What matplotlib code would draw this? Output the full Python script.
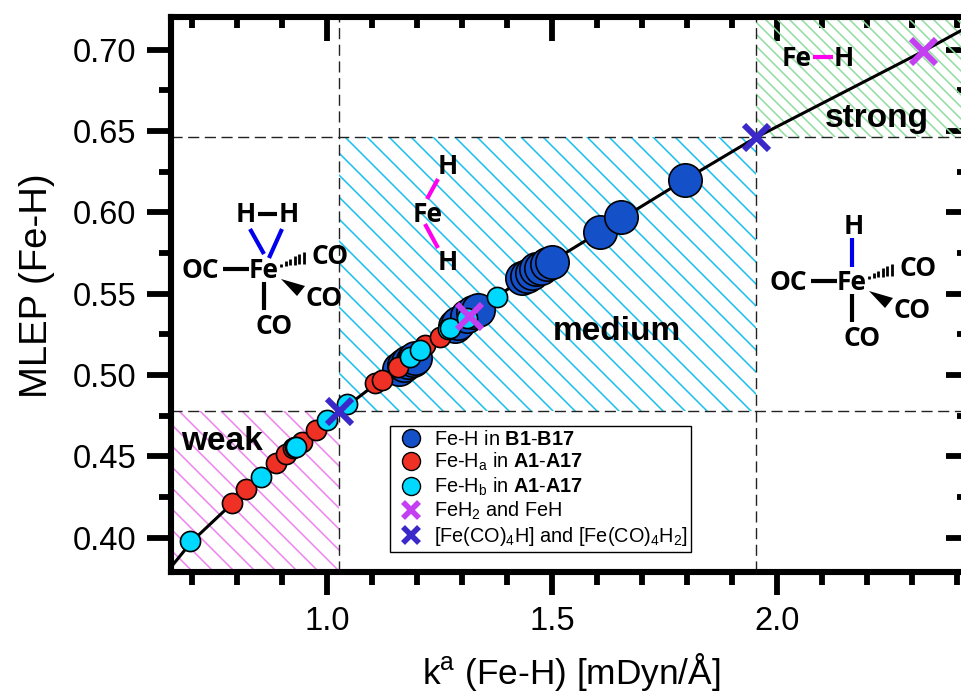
import matplotlib
matplotlib.use('Agg')
import matplotlib.pyplot as plt
from matplotlib.collections import LineCollection
from matplotlib.lines import Line2D
from matplotlib.patches import Polygon, Rectangle
from matplotlib.ticker import MultipleLocator
from matplotlib.transforms import Affine2D

plt.rcParams['font.family'] = ['Liberation Sans', 'DejaVu Sans']
plt.rcParams['mathtext.fontset'] = 'custom'
plt.rcParams['mathtext.rm'] = 'Liberation Sans'
plt.rcParams['mathtext.bf'] = 'Liberation Sans:bold'
plt.rcParams['mathtext.it'] = 'Liberation Sans:italic'

# values
line_x = [0.653, 0.70, 0.85, 1.03, 1.30, 1.50, 1.795, 1.953, 2.325, 2.424]
line_y = [0.382, 0.398, 0.437, 0.478, 0.535, 0.570, 0.620, 0.646, 0.699, 0.714]

b_x = [1.16, 1.17, 1.18, 1.19, 1.196, 1.285, 1.291, 1.31, 1.325, 1.336, 1.433, 1.445, 1.455, 1.465, 1.475, 1.488, 1.50, 1.606, 1.653, 1.795]
b_y = [0.504, 0.506, 0.508, 0.509, 0.5105, 0.530, 0.532, 0.536, 0.539, 0.540, 0.5596, 0.561, 0.563, 0.565, 0.566, 0.568, 0.5695, 0.588, 0.597, 0.620]

ha_x = [0.788, 0.82, 0.887, 0.909, 0.925, 0.944, 0.976, 1.107, 1.122, 1.158, 1.218, 1.251]
ha_y = [0.4215, 0.430, 0.446, 0.4516, 0.455, 0.459, 0.466, 0.495, 0.497, 0.505, 0.5185, 0.5235]

hb_x = [0.696, 0.853, 0.928, 0.931, 1.00, 1.044, 1.184, 1.207, 1.268, 1.273, 1.311, 1.378]
hb_y = [0.398, 0.4372, 0.4555, 0.456, 0.4725, 0.482, 0.511, 0.5155, 0.528, 0.529, 0.535, 0.548]

feh_x = [1.316, 2.325]
feh_y = [0.536, 0.699]
feco_x = [1.026, 1.953]
feco_y = [0.478, 0.646]

weak_x = 1.026
strong_x = 1.953
weak_y = 0.478
strong_y = 0.646

x_ticks = [1.0, 1.5, 2.0]
y_ticks = [0.40, 0.45, 0.50, 0.55, 0.60, 0.65, 0.70]

BLUE = '#1450C8'
RED = '#EE3124'
CYAN = '#00D9FF'
PURPLE = '#C43FF2'
NAVY = '#3A28C8'

W, H = 962, 694
fig = plt.figure(figsize=(W / 100, H / 100), dpi=100)
ax = fig.add_axes([171 / W, 1 - 572 / H, 797 / W, 555.5 / H])
ax.set_xlim(0.653, 2.424)
ax.set_ylim(0.379, 0.7203)

# region labels, hatching and sketches are placed in image pixels
to_px = Affine2D().scale(1, -1).translate(0, H)

# strength regions, hatched by hand because the built-in density is too coarse to tune
x0, x1 = ax.get_xlim()
y0, y1 = ax.get_ylim()
regions = [(x0, y0, weak_x, weak_y, '#EE82EE', 21),
           (weak_x, weak_y, strong_x, strong_y, '#19BFEF', 22),
           (strong_x, strong_y, x1, y1, '#8FDD9F', 12)]
for xa, ya, xb, yb, col, step in regions:
    box = Rectangle((xa, ya), xb - xa, yb - ya, facecolor='none', edgecolor='none', zorder=1)
    ax.add_patch(box)
    segs = []
    start = -H
    while start < W:
        segs.append([(start, 0), (start + H, H)])
        start += step
    hatch = LineCollection(segs, colors=col, linewidths=1.1, transform=to_px, zorder=1)
    ax.add_collection(hatch, autolim=False)
    hatch.set_clip_path(box)

for xv in (weak_x, strong_x):
    ax.axvline(xv, color='#222222', lw=1.0, dashes=(8, 4), zorder=2)
for yv in (weak_y, strong_y):
    ax.axhline(yv, color='#222222', lw=1.0, dashes=(8, 4), zorder=2)

ax.plot(line_x, line_y, color='black', lw=2.2, zorder=3)
ax.plot(b_x, b_y, 'o', ms=24, mfc=BLUE, mec='black', mew=1.2, zorder=4)
ax.plot(ha_x, ha_y, 'o', ms=14.5, mfc=RED, mec='black', mew=1.2, zorder=5)
ax.plot(hb_x, hb_y, 'o', ms=14.5, mfc=CYAN, mec='black', mew=1.2, zorder=6)
ax.plot(feh_x, feh_y, 'x', ms=18, mec=PURPLE, mew=4.3, zorder=7)
ax.plot(feco_x, feco_y, 'x', ms=18, mec=NAVY, mew=4.3, zorder=7)

for side in ax.spines.values():
    side.set_linewidth(4.4)

ax.set_xticks(x_ticks)
ax.set_yticks(y_ticks)
ax.set_xticklabels(['%.1f' % v for v in x_ticks])
ax.set_yticklabels(['%.2f' % v for v in y_ticks])
ax.xaxis.set_minor_locator(MultipleLocator(0.1))
ax.yaxis.set_minor_locator(MultipleLocator(0.025))
ax.tick_params(axis='y', which='major', direction='out', length=17, width=4.2, labelsize=23.5, pad=8)
ax.tick_params(axis='x', which='major', direction='out', length=16.5, width=4.2, labelsize=23.5, pad=8)
ax.tick_params(axis='both', which='minor', direction='out', length=9, width=4.2)

# inward ticks on top and right come from twin axes
top = ax.twiny()
top.set_xlim(ax.get_xlim())
top.set_xticks(x_ticks)
top.xaxis.set_minor_locator(MultipleLocator(0.1))
top.tick_params(which='major', direction='in', length=17, width=4.2, labeltop=False)
top.tick_params(which='minor', direction='in', length=8, width=4.2)
right = ax.twinx()
right.set_ylim(ax.get_ylim())
right.set_yticks(y_ticks)
right.yaxis.set_minor_locator(MultipleLocator(0.025))
right.tick_params(which='major', direction='in', length=16, width=4.2, labelright=False)
right.tick_params(which='minor', direction='in', length=8, width=4.2)
for twin in (top, right):
    twin.set_frame_on(False)
    twin.set_zorder(ax.get_zorder() - 1)
ax.patch.set_visible(False)

ax.set_xlabel('k$^{\\mathrm{a}}$ (Fe-H) [mDyn/Å]', fontsize=25.4)
ax.set_ylabel('MLEP (Fe-H)', fontsize=27.5)
ax.xaxis.set_label_coords(0.502, -0.143)
ax.yaxis.set_label_coords(-0.145, 0.515)


def label(x, y, text, size=19, weight='bold', family='Open Sans'):
    fig.text(x, y, text, transform=to_px, ha='center', va='center', fontsize=size,
             fontweight=weight, family=family, zorder=8)


def bond(xa, ya, xb, yb, color='black', lw=3.0):
    fig.add_artist(Line2D([xa, xb], [ya, yb], transform=to_px, color=color, lw=lw,
                          solid_capstyle='butt', zorder=8))


def wedges(dx, dy):
    fig.add_artist(Polygon([(281 + dx, 279 + dy), (305 + dx, 286 + dy), (297 + dx, 296 + dy)],
                           closed=True, transform=to_px, facecolor='black', edgecolor='none', zorder=8))
    for i in range(6):
        xa = 281 + dx + i * 4.6
        ya = 265 + dy - i * 1.5
        half = 1.5 + i * 0.9
        bond(xa, ya - half, xa, ya + half, lw=2.0)


def carbonyl_frame(dx, dy):
    label(200 + dx, 270 + dy, 'OC')
    bond(223 + dx, 269 + dy, 249 + dx, 269 + dy)
    label(264 + dx, 270 + dy, 'Fe')
    bond(264 + dx, 282 + dy, 264 + dx, 310 + dy)
    label(274 + dx, 326 + dy, 'CO')
    label(330 + dx, 256 + dy, 'CO')
    label(324 + dx, 298 + dy, 'CO')
    wedges(dx, dy)


for name, xp, yp in [('weak', 222, 442), ('medium', 617, 332), ('strong', 877, 118)]:
    label(xp, yp, name, size=24, family='Liberation Sans')

carbonyl_frame(0, 0)
label(246, 215, 'H')
label(289, 215, 'H')
bond(258, 214, 277, 214)
bond(250, 229, 264, 254, color='#0000EE')
bond(282, 229, 269, 258, color='#0000EE')

carbonyl_frame(588, 12)
label(854, 227, 'H')
bond(852, 238, 852, 267, color='#0000EE')

label(428, 215, 'Fe')
label(448, 167, 'H')
label(448, 262, 'H')
bond(427, 199, 438, 179, color='#FF00EE')
bond(425, 224, 438, 248, color='#FF00EE')

label(797, 58, 'Fe')
label(844, 58, 'H')
bond(813, 57, 833, 57, color='#FF00EE')

handles = [
    Line2D([], [], ls='none', marker='o', ms=13, mfc=BLUE, mec='black', mew=1.0),
    Line2D([], [], ls='none', marker='o', ms=13, mfc=RED, mec='black', mew=1.0),
    Line2D([], [], ls='none', marker='o', ms=13, mfc=CYAN, mec='black', mew=1.0),
    Line2D([], [], ls='none', marker='x', ms=11, mec=PURPLE, mew=4.0),
    Line2D([], [], ls='none', marker='x', ms=11, mec=NAVY, mew=4.0),
]
names = ['Fe-H in $\\mathbf{B1\\text{-}B17}$',
         'Fe-H$_{\\mathrm{a}}$ in $\\mathbf{A1\\text{-}A17}$',
         'Fe-H$_{\\mathrm{b}}$ in $\\mathbf{A1\\text{-}A17}$',
         'FeH$_{2}$ and FeH',
         '[Fe(CO)$_{4}$H] and [Fe(CO)$_{4}$H$_{2}$]']
leg = ax.legend(handles, names, loc='upper left', bbox_to_anchor=((390 - 171) / 797, (572 - 426) / 555.5),
                borderaxespad=0, fontsize=14.3, frameon=True, fancybox=False, framealpha=1,
                edgecolor='black', labelspacing=0.11, handlelength=1.75, handletextpad=0.25,
                borderpad=0.2)
leg.get_frame().set_linewidth(1.0)
leg.set_zorder(9)

fig.savefig('out.png', dpi=100)
